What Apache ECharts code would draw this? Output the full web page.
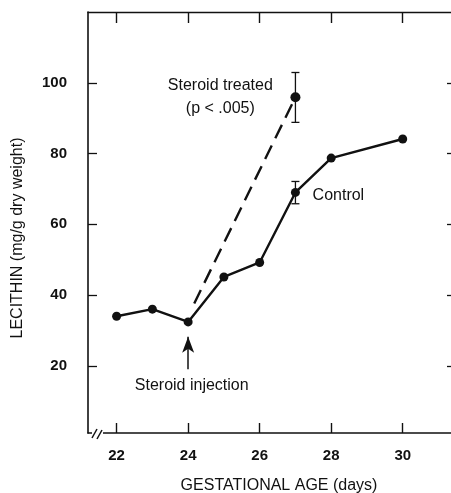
<!DOCTYPE html>
<html>
<head>
<meta charset="utf-8">
<script src="https://cdn.jsdelivr.net/npm/echarts@6.0.0/dist/echarts.min.js"></script>
<style>
  html, body { margin: 0; padding: 0; background: #fff; }
  #main { width: 451px; height: 493px; }
</style>
</head>
<body>
<div id="main"></div>
<script>
// gestational age (days) and lecithin (mg/g dry weight)
var days = [22, 23, 24, 25, 26, 27, 28, 30];
var control = [34, 36, 32.4, 45.1, 49.2, 69, 78.7, 84.1];
var controlErr = [[27, 65.8, 72.1]];
// dashed line: visible part starts just past the injection point
var steroidDays = [24.17, 27];
var steroid = [37.6, 95.9];
var steroidErr = [[27, 88.8, 102.9]];
var xTicks = [22, 24, 26, 28, 30];
var yTicks = [20, 40, 60, 80, 100];

var ink = '#111';
var font = 'Liberation Sans, Arial, sans-serif';

var myChart = echarts.init(document.getElementById('main'));

function errBar(params, api) {
  var x = api.value(0);
  var lo = api.coord([x, api.value(1)]);
  var hi = api.coord([x, api.value(2)]);
  var w = 4;
  var st = { stroke: ink, lineWidth: 1.3 };
  return {
    type: 'group',
    children: [
      { type: 'line', shape: { x1: lo[0], y1: lo[1], x2: hi[0], y2: hi[1] }, style: st },
      { type: 'line', shape: { x1: lo[0] - w, y1: lo[1], x2: lo[0] + w, y2: lo[1] }, style: st },
      { type: 'line', shape: { x1: hi[0] - w, y1: hi[1], x2: hi[0] + w, y2: hi[1] }, style: st }
    ]
  };
}

var option = {
  backgroundColor: '#fff',
  animation: false,
  grid: { left: 88, right: 0, top: 12, bottom: 60 },
  xAxis: [
    {
      type: 'value', min: 21.2, max: 31.35, position: 'bottom',
      axisLine: { show: true, onZero: false, lineStyle: { color: ink, width: 1.6 } },
      axisTick: { show: true, inside: true, length: 10, customValues: xTicks, lineStyle: { color: ink, width: 1.4 } },
      axisLabel: { customValues: xTicks, color: ink, fontSize: 15, fontWeight: 'bold', fontFamily: font, margin: 15 },
      splitLine: { show: false }
    },
    {
      type: 'value', min: 21.2, max: 31.35, position: 'top',
      axisLine: { show: true, onZero: false, lineStyle: { color: ink, width: 1.4 } },
      axisTick: { show: true, inside: true, length: 11, customValues: xTicks, lineStyle: { color: ink, width: 1.4 } },
      axisLabel: { show: false },
      splitLine: { show: false }
    }
  ],
  yAxis: [
    {
      type: 'value', min: 1, max: 120, position: 'left',
      axisLine: { show: true, onZero: false, lineStyle: { color: ink, width: 1.6 } },
      axisTick: { show: true, inside: true, length: 9, customValues: yTicks, lineStyle: { color: ink, width: 1.3 } },
      axisLabel: { customValues: yTicks, color: ink, fontSize: 15, fontWeight: 'bold', fontFamily: font, margin: 21 },
      splitLine: { show: false }
    },
    {
      type: 'value', min: 1, max: 120, position: 'right',
      axisLine: { show: false },
      axisTick: { show: true, inside: true, length: 4, customValues: yTicks, lineStyle: { color: ink, width: 1.3 } },
      axisLabel: { show: false },
      splitLine: { show: false }
    }
  ],
  series: [
    {
      name: 'Steroid treated',
      type: 'line',
      data: steroidDays.map(function (d, i) { return [d, steroid[i]]; }),
      symbol: 'circle',
      symbolSize: function (v, p) { return p.dataIndex === 1 ? 10 : 0; },
      showSymbol: true,
      itemStyle: { color: ink },
      lineStyle: { color: ink, width: 2.4, type: [15, 8] },
      z: 3
    },
    {
      name: 'Control',
      type: 'line',
      data: days.map(function (d, i) { return [d, control[i]]; }),
      symbol: 'circle',
      symbolSize: 9,
      itemStyle: { color: ink },
      lineStyle: { color: ink, width: 2.4 },
      z: 4,
      markLine: {
        silent: true,
        symbol: ['none', 'arrow'],
        symbolSize: [9, 16],
        label: { show: false },
        lineStyle: { color: ink, width: 1.5, type: 'solid' },
        data: [[{ coord: [24, 19] }, { coord: [24, 28.2] }]]
      }
    },
    {
      type: 'custom',
      renderItem: errBar,
      data: controlErr.concat(steroidErr),
      z: 5
    }
  ]
};
myChart.setOption(option);

function px(x, y) { return myChart.convertToPixel({ xAxisIndex: 0, yAxisIndex: 0 }, [x, y]); }

var tStyle = { fill: ink, fontSize: 16, fontFamily: font, textAlign: 'center', textVerticalAlign: 'middle' };
function txt(p, s, extra) {
  var st = Object.assign({}, tStyle, { text: s }, extra || {});
  return { type: 'text', x: p[0], y: p[1], style: st, z: 10 };
}

var pSt = px(24.9, 99.1);
var pP = px(24.9, 92.6);
var pC = px(27.48, 68);
var pInj = px(24.1, 14.3);
var axisBottom = px(21.2, 1);
var breakX = axisBottom[0];
var breakY = axisBottom[1];

myChart.setOption({
  graphic: [
    txt(pSt, 'Steroid treated'),
    txt(pP, '(p < .005)'),
    txt([pC[0], pC[1]], 'Control', { textAlign: 'left' }),
    txt(pInj, 'Steroid injection'),
    txt([279, 486], 'GESTATIONAL AGE (days)', { fontSize: 16 }),
    {
      type: 'text', x: 18, y: 238, rotation: Math.PI / 2, z: 10,
      style: { text: 'LECITHIN (mg/g dry weight)', fill: ink, fontSize: 16, fontFamily: font, textAlign: 'center', textVerticalAlign: 'middle' }
    },
    // axis break
    { type: 'rect', shape: { x: breakX + 4, y: breakY - 3, width: 11, height: 6 }, style: { fill: '#fff' }, z: 20 },
    { type: 'line', shape: { x1: breakX + 4, y1: breakY + 5, x2: breakX + 9, y2: breakY - 4 }, style: { stroke: ink, lineWidth: 1.5 }, z: 21 },
    { type: 'line', shape: { x1: breakX + 9, y1: breakY + 6, x2: breakX + 14, y2: breakY - 3 }, style: { stroke: ink, lineWidth: 1.5 }, z: 21 }
  ]
});
</script>
</body>
</html>
